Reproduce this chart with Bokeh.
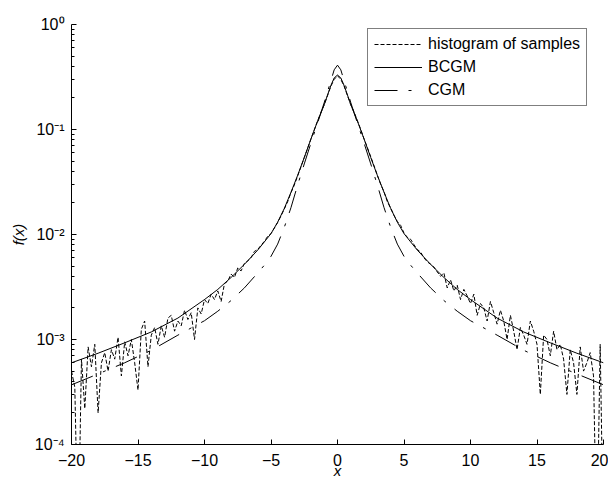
from bokeh.plotting import figure
from bokeh.models import (FixedTicker, CustomJSTickFormatter, Legend, LegendItem, Range1d)
from bokeh.embed import file_html
from bokeh.resources import INLINE

# ---- data ----
x_model = [-20, -18, -16, -14, -12, -10, -9, -8, -7, -6, -5.5, -5, -4.5, -4, -3.5, -3, -2.5, -2, -1.5, -1,
           -0.75, -0.5, -0.25,
           0, 0.25, 0.5, 0.75, 1, 1.5, 2, 2.5, 3, 3.5, 4, 4.5, 5, 5.5, 6, 7, 8, 9, 10, 12, 14, 16, 18, 20]
bcgm = [6.0e-4, 7.4e-4, 9.3e-4, 1.18e-3, 1.6e-3, 2.4e-3, 3.0e-3, 3.9e-3, 5.2e-3, 7.1e-3, 8.5e-3, 1.02e-2,
        1.31e-2, 1.77e-2, 2.52e-2, 3.65e-2, 5.4e-2, 8.1e-2, 0.12, 0.172, 0.213, 0.262, 0.31,
        0.33,
        0.31, 0.262, 0.213, 0.172, 0.12, 8.1e-2, 5.4e-2, 3.65e-2, 2.52e-2, 1.77e-2, 1.31e-2, 1.02e-2,
        8.5e-3, 7.1e-3, 5.2e-3, 3.9e-3, 3.0e-3, 2.4e-3, 1.6e-3, 1.18e-3, 9.3e-4, 7.4e-4, 6.0e-4]
cgm = [3.7e-4, 4.7e-4, 6.0e-4, 7.9e-4, 1.1e-3, 1.51e-3, 1.86e-3, 2.35e-3, 3.1e-3, 4.3e-3, 5.1e-3, 6.2e-3,
       8.1e-3, 1.17e-2, 1.8e-2, 2.95e-2, 4.7e-2, 7.4e-2, 0.115, 0.18, 0.23, 0.29, 0.37,
       0.41,
       0.37, 0.29, 0.23, 0.18, 0.115, 7.4e-2, 4.7e-2, 2.95e-2, 1.8e-2, 1.17e-2, 8.1e-3, 6.2e-3,
       5.1e-3, 4.3e-3, 3.1e-3, 2.35e-3, 1.86e-3, 1.51e-3, 1.1e-3, 7.9e-4, 6.0e-4, 4.7e-4, 3.7e-4]

hist_step = 0.25
hist = [
    5.0e-4, 3.5e-4, 1e-5, 6.5e-4,
    2.2e-4, 8.5e-4, 5.5e-4, 9.0e-4,
    2.0e-4, 6.0e-4, 7.5e-4, 5.0e-4,
    8.0e-4, 6.5e-4, 1.05e-3, 4.5e-4,
    9.5e-4, 7.0e-4, 1.0e-3, 6.0e-4,
    3.3e-4, 1.25e-3, 1.5e-3, 5.5e-4,
    1.1e-3, 1.3e-3, 9.0e-4, 1.35e-3,
    1.05e-3, 1.6e-3, 1.7e-3, 1.2e-3,
    1.5e-3, 1.35e-3, 1.9e-3, 1.55e-3,
    1.8e-3, 1.0e-3, 2.0e-3, 1.75e-3,
    2.4e-3, 2.2e-3, 2.7e-3, 2.4e-3,
    2.9e-3, 2.3e-3, 3.4e-3, 3.6e-3,
    4.2e-3, 3.9e-3, 4.8e-3, 4.5e-3,
    5.3e-3, 5.6e-3, 6.0e-3, 6.9e-3,
    7.2e-3, 7.9e-3, 8.6e-3, 9.6e-3,
    1.02e-2, 1.15e-2, 1.3e-2, 1.5e-2,
    1.75e-2, 2.05e-2, 2.5e-2, 2.95e-2,
    3.6e-2, 4.4e-2, 5.4e-2, 6.6e-2,
    8.1e-2, 9.9e-2, 0.12, 0.145,
    0.172, 0.21, 0.258, 0.30,
    0.325,
    0.30, 0.258, 0.21, 0.172,
    0.146, 0.121, 0.10, 0.081,
    0.067, 0.055, 0.045, 0.0365,
    0.030, 0.0255, 0.0205, 0.0178,
    0.0152, 0.0133, 0.0122, 0.0103,
    0.0094, 0.0090, 0.0080, 0.0072,
    0.0068, 0.0060, 0.0055, 0.0052,
    0.0049, 0.0044, 0.0040, 0.0043,
    0.0031, 0.0037, 0.0029, 0.0033,
    0.0024, 0.0030, 0.0026, 0.0022,
    0.0027, 0.0017, 0.0022, 0.0020,
    0.0015, 0.0023, 0.0018, 0.0014,
    0.0019, 0.0015, 0.0010, 0.0017,
    0.0012, 0.0008, 0.0013, 0.0011,
    0.0009, 0.0015, 0.0012, 0.0009,
    0.0003, 0.0011, 0.0010, 0.0007,
    0.0012, 0.0008, 0.0009, 0.00065,
    0.0003, 0.0008, 0.0006, 0.0003,
    0.00085, 0.0005, 0.0006, 0.00075,
    0.00045, 1e-5, 9e-4, 1e-5,
]
hist_x = [-20 + i * hist_step for i in range(len(hist))]

x_ticks = [-20, -15, -10, -5, 0, 5, 10, 15, 20]
y_ticks = [1e-4, 1e-3, 1e-2, 1e-1, 1]
y_minor = [m * 10.0 ** e for e in range(-4, 0) for m in range(2, 10)]

FONT = "Liberation Sans"

p = figure(width=608, height=482, y_axis_type="log",
           x_range=Range1d(-20, 20), y_range=Range1d(1e-4, 1),
           output_backend="svg", toolbar_location=None,
           min_border_left=71, min_border_right=5, min_border_top=24, min_border_bottom=38)
p.grid.visible = False
p.outline_line_color = None
p.background_fill_color = "white"
p.border_fill_color = "white"

r_hist = p.line(hist_x, hist, line_color="black", line_width=1, line_dash="4 2")
r_b = p.line(x_model, bcgm, line_color="black", line_width=1)
r_c = p.line(x_model, cgm, line_color="black", line_width=1, line_dash="23 11 3 11")

p.xaxis.ticker = FixedTicker(ticks=x_ticks)
p.yaxis.ticker = FixedTicker(ticks=y_ticks, minor_ticks=y_minor)
p.xaxis.formatter = CustomJSTickFormatter(code="return tick < 0 ? '\u2212' + Math.abs(tick) : String(tick);")
p.yaxis.formatter = CustomJSTickFormatter(code="""
const e = Math.round(Math.log10(tick));
const sup = {"0":"\u2070","1":"\u00b9","2":"\u00b2","3":"\u00b3","4":"\u2074","-":"\u207b"};
return "10" + String(e).split("").map(c => sup[c]).join("");
""")

for ax in p.axis:
    ax.major_tick_in = 5
    ax.major_tick_out = 0
    ax.minor_tick_in = 3
    ax.minor_tick_out = 0
    ax.axis_line_color = "black"
    ax.major_tick_line_color = "black"
    ax.minor_tick_line_color = "black"
    ax.major_label_text_font = FONT
    ax.major_label_text_color = "black"
    ax.axis_label_text_font = FONT
    ax.axis_label_text_font_style = "italic"
    ax.axis_label_text_font_size = "15px"
    ax.axis_label_text_color = "black"

p.xaxis.minor_tick_line_color = None
p.xaxis.major_label_text_font_size = "16px"
p.xaxis.major_label_standoff = 9
p.xaxis.axis_label = "x"
p.xaxis.axis_label_standoff = -7
p.yaxis.major_label_text_font_size = "16px"
p.yaxis.major_label_standoff = 7
p.yaxis.axis_label = "f(x)"
p.yaxis.axis_label_standoff = 5

legend = Legend(items=[LegendItem(label="histogram of samples", renderers=[r_hist]),
                       LegendItem(label="BCGM", renderers=[r_b]),
                       LegendItem(label="CGM", renderers=[r_c])],
                location=(296, 338), border_line_color="black", border_line_width=1,
                label_text_font=FONT, label_text_font_size="16px", label_text_color="black",
                glyph_width=48, glyph_height=18, label_height=18, label_standoff=6,
                padding=6, spacing=5, margin=0, background_fill_alpha=1.0)
p.add_layout(legend)

open("out.html", "w").write(file_html(p, INLINE))
